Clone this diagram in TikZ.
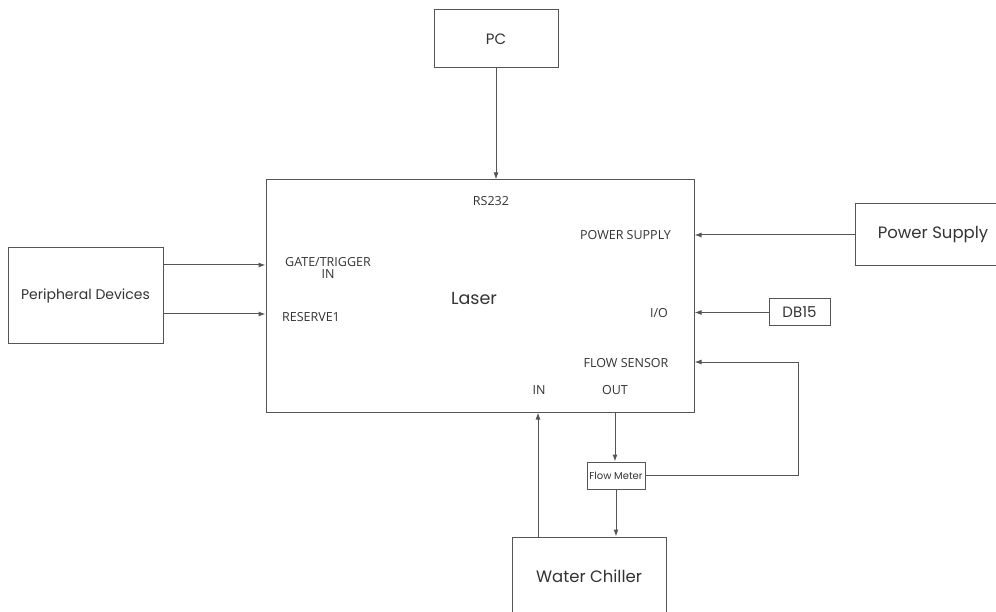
\documentclass[tikz,border=0pt]{standalone}
\usepackage{fontspec}
\setmainfont{Poppins}
\newfontfamily\portfont{Open Sans}
\usetikzlibrary{arrows.meta,calc}
\definecolor{linegray}{HTML}{555555}
\definecolor{textgray}{HTML}{333333}

\begin{document}
\begin{tikzpicture}[x=1pt,y=-1pt,
    box/.style={draw=linegray,line width=1pt,rectangle,inner sep=0,text=textgray},
    bigtext/.style={font=\fontsize{16.5}{19}\selectfont},
    porttext/.style={font=\portfont\fontsize{12.5}{14}\selectfont,text=textgray,inner sep=0,align=center},
    arr/.style={draw=linegray,line width=1pt,-{Latex[length=7pt,width=5pt]}}]
    \pgfmathsetmacro{\laserwidth}{428}
    \pgfmathsetmacro{\laserheight}{232}
    \useasboundingbox (0,0) rectangle (996,612);
    \clip (0,0) rectangle (996,612);
    % boxes
    \node[box,minimum width=\laserwidth,minimum height=\laserheight] (laser) at (480,296) {};
    \node[font=\fontsize{17.5}{20}\selectfont,text=textgray,inner sep=0] (lasername) at (474,298) {Laser};
    \node[box,font=\fontsize{15}{17}\selectfont,minimum width=124,minimum height=58] (pc) at (496,39) {PC};
    \node[box,bigtext,minimum width=156,minimum height=62] (psu) at (933,235) {Power Supply};
    \node[box,font=\fontsize{15}{17}\selectfont,minimum width=61,minimum height=27] (db) at (799.5,312.5) {DB15};
    \node[box,font=\fontsize{14}{16}\selectfont,minimum width=155,minimum height=95] (periph) at (85.5,295.5) {Peripheral Devices};
    \node[box,font=\fontsize{10}{12}\selectfont,minimum width=58,minimum height=27] (fm) at (616,475.5) {Flow Meter};
    \node[box,bigtext,minimum width=154,minimum height=78] (chiller) at (589,576) {Water Chiller};
    % port labels
    \node[porttext] (rs) at (491,201) {RS232};
    \node[porttext] (pwr) at (625.5,235) {POWER SUPPLY};
    \node[porttext] (gate) at (328,268) {GATE/TRIGGER\\[-2pt]IN};
    \node[porttext] (res) at (311,317) {RESERVE1};
    \node[porttext] (io) at (659,313) {I/O};
    \node[porttext] (fs) at (626,363) {FLOW SENSOR};
    \node[porttext] (inlbl) at (539,390) {IN};
    \node[porttext] (outlbl) at (615,390) {OUT};
    \coordinate (fbk) at (798,362);
    % connectors
    \draw[arr] (pc.south) -- (pc.south |- laser.north);
    \draw[arr] ([yshift=30.5pt]periph.east) -- ([yshift=30.5pt]periph.east -| laser.west);
    \draw[arr] ([yshift=-18.5pt]periph.east) -- ([yshift=-18.5pt]periph.east -| laser.west);
    \draw[arr] (psu.west) -- (psu.west -| laser.east);
    \draw[arr] (db.west) -- (db.west -| laser.east);
    \draw[arr] (fm.east) -| (fbk) -- (fbk -| laser.east);
    \draw[arr] (outlbl |- laser.south) -- (outlbl |- fm.north);
    \draw[arr] (fm.south) -- (fm.south |- chiller.north);
    \draw[arr] ([xshift=-51pt]chiller.north) -- ([xshift=-51pt]chiller.north |- laser.south);
\end{tikzpicture}
\end{document}
